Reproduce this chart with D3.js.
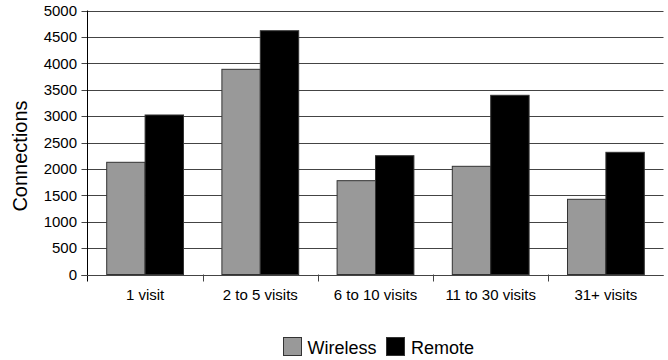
<!DOCTYPE html>
<html><head><meta charset="utf-8">
<script src="https://cdn.jsdelivr.net/npm/d3@7"></script>
<style>body{margin:0;background:#fff}svg{display:block;font-family:"Liberation Sans",Arial,sans-serif}</style>
</head><body><svg id="c" width="668" height="360"></svg>
<script>
const categories = ["1 visit","2 to 5 visits","6 to 10 visits","11 to 30 visits","31+ visits"];
const seriesNames = ["Wireless","Remote"];
const wireless = [2125, 3886, 1777, 2049, 1424];
const remote = [3021, 4617, 2250, 3394, 2314];
const yTicks = [0,500,1000,1500,2000,2500,3000,3500,4000,4500,5000];
const colors = {Wireless:"#999999", Remote:"#000000"};

const svg = d3.select("#c");
const L = 87.5, R = 663.5, T = 10.5, B = 274.5;
const x0 = d3.scaleBand().domain(categories).range([L, R]).paddingInner(0).paddingOuter(0);
const x1 = d3.scaleBand().domain(seriesNames).range([0, x0.bandwidth()]).paddingInner(0).paddingOuter(0.5);
const y = d3.scaleLinear().domain([0, 5000]).range([B, T]);

// gridlines
svg.append("g").selectAll("line").data(yTicks).join("line")
  .attr("x1", L - 6).attr("x2", R)
  .attr("y1", d => Math.round(y(d)) + 0.5).attr("y2", d => Math.round(y(d)) + 0.5)
  .attr("stroke", "#444").attr("stroke-width", 1);

// y tick labels
svg.append("g").selectAll("text").data(yTicks).join("text")
  .attr("x", 77).attr("y", d => y(d)).attr("dy", "0.35em")
  .attr("text-anchor", "end").attr("font-size", 15).attr("fill", "#000")
  .text(d => d);

// bars
const data = categories.map((c, i) => ({cat: c, vals: [{k:"Wireless", v: wireless[i]}, {k:"Remote", v: remote[i]}]}));
svg.append("g").selectAll("g").data(data).join("g")
  .attr("transform", d => `translate(${x0(d.cat)},0)`)
  .selectAll("rect").data(d => d.vals).join("rect")
  .attr("x", d => x1(d.k)).attr("width", x1.bandwidth())
  .attr("y", d => y(d.v)).attr("height", d => y(0) - y(d.v))
  .attr("fill", d => colors[d.k]).attr("stroke", "#333").attr("stroke-width", 1);

// axes lines
svg.append("line").attr("x1", L).attr("x2", L).attr("y1", T).attr("y2", B + 7).attr("stroke", "#000");
svg.append("line").attr("x1", L - 6).attr("x2", R).attr("y1", Math.round(y(0)) + 0.5).attr("y2", Math.round(y(0)) + 0.5).attr("stroke", "#444");
// x ticks between categories
svg.append("g").selectAll("line").data(categories.slice(1)).join("line")
  .attr("x1", d => Math.round(x0(d)) + 0.5).attr("x2", d => Math.round(x0(d)) + 0.5)
  .attr("y1", B).attr("y2", B + 7).attr("stroke", "#444");

// x labels
svg.append("g").selectAll("text").data(categories).join("text")
  .attr("x", d => x0(d) + x0.bandwidth() / 2).attr("y", 300)
  .attr("text-anchor", "middle").attr("font-size", 15).attr("fill", "#000")
  .text(d => d);

// y label
svg.append("text").attr("transform", "translate(27,156) rotate(-90)")
  .attr("text-anchor", "middle").attr("font-size", 20).attr("fill", "#000")
  .text("Connections");

// legend
const leg = [{k:"Wireless", x:283.5, tx:307.5}, {k:"Remote", x:386.5, tx:411}];
const lg = svg.append("g");
lg.selectAll("rect").data(leg).join("rect")
  .attr("x", d => d.x).attr("y", 337.5).attr("width", 18).attr("height", 18)
  .attr("fill", d => colors[d.k]).attr("stroke", "#333");
lg.selectAll("text").data(leg).join("text")
  .attr("x", d => d.tx).attr("y", 353.5).attr("font-size", 18).attr("fill", "#000")
  .text(d => d.k);
</script></body></html>
